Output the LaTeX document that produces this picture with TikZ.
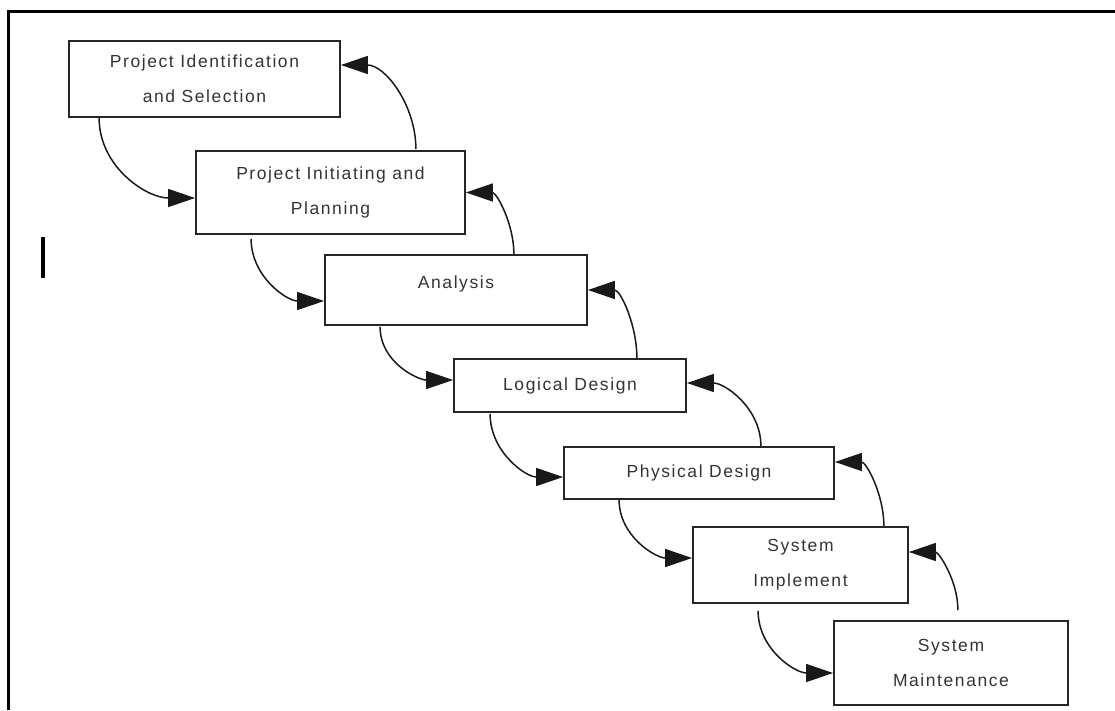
\documentclass[tikz,border=0pt]{standalone}
\usepackage{fontspec}
\setmainfont{Liberation Sans}[LetterSpace=9]
\usetikzlibrary{arrows.meta}

\begin{document}
\begin{tikzpicture}[x=1pt,y=-1pt,>={Triangle[length=27pt,width=18pt]}]
    \tikzstyle{stage}=[draw=black!85,line width=1.8pt,align=center,text=black!80,inner sep=0pt,font=\fontsize{17.5}{35}\selectfont]
    \tikzstyle{down link}=[->,line width=1.5pt,draw=black!90]
    \tikzstyle{back link}=[->,line width=1.5pt,draw=black!90]
    \tikzstyle{frame}=[line width=3pt,draw=black]

    \useasboundingbox (0,0) rectangle (1115,710);

    % Draw the frame and the mark on the left
    \draw[frame] (8,710) -- (8,11) -- (1115,11);
    \draw[line width=4pt] (43,237) -- (43,278);

    % Draw the stages
    \node[stage,minimum width=271pt,minimum height=76pt] (S-1) at (204.5,79) {Project Identification\\and Selection};
    \node[stage,minimum width=269pt,minimum height=83pt] (S-2) at (330.5,192.5) {Project Initiating and\\Planning};
    \node[stage,minimum width=262pt,minimum height=70pt,text depth=16pt] (S-3) at (456,290) {Analysis};
    \node[stage,minimum width=232pt,minimum height=53pt] (S-4) at (570,385.5) {Logical Design};
    \node[stage,minimum width=270pt,minimum height=52pt] (S-5) at (699,473) {Physical Design};
    \node[stage,minimum width=215pt,minimum height=76pt] (S-6) at (800.5,565) {System\\Implement};
    \node[stage,minimum width=234pt,minimum height=84pt] (S-7) at (951,663) {System\\Maintenance};

    % Connect every stage with the next one
    \foreach \a/\b/\sx/\sy/\ey in {1/2/31/0/-5.5,2/3/56/-4/-11,3/4/56/-1/5.5,4/5/37/-1/-4,5/6/56/0/7,6/7/66/-7/-10}
        \draw[down link] ([xshift=\sx pt,yshift=\sy pt]S-\a.south west) to[out=-90,in=180] ([yshift=\ey pt]S-\b.west);

    % Connect every stage back with the one before
    \foreach \a/\b/\sx/\sy/\ey in {2/1/-50/1/14,3/2/-74/0/0,4/3/-50/0/0,5/4/-74/0/2.5,6/5/-25/0/11,7/6/-111/10/13}
        \draw[back link] ([xshift=\sx pt,yshift=\sy pt]S-\a.north east) to[out=90,in=0] ([yshift=\ey pt]S-\b.east);
\end{tikzpicture}
\end{document}
